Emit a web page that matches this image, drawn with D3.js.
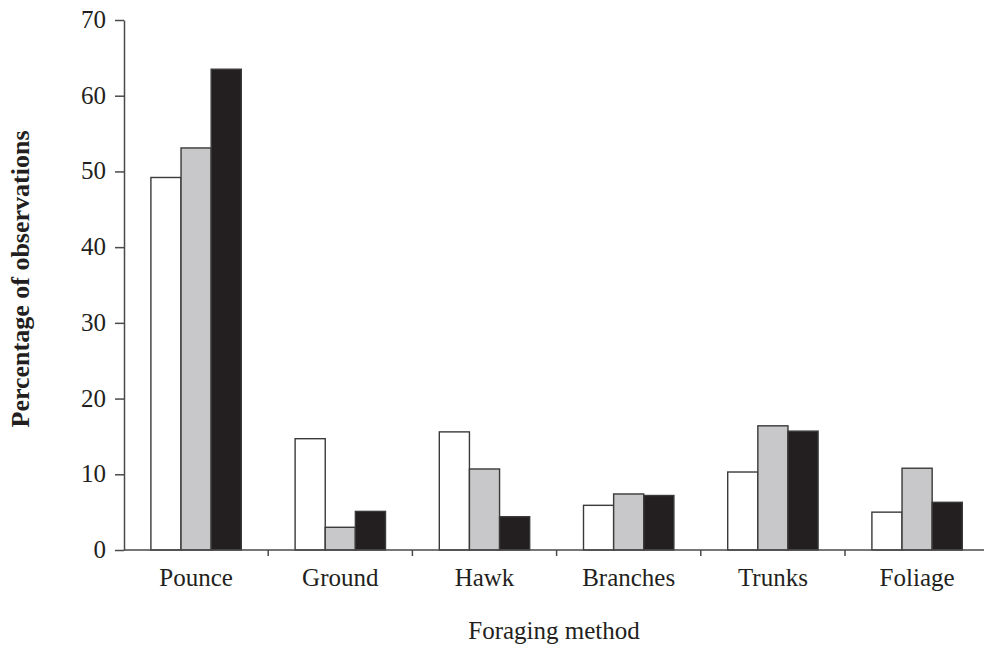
<!DOCTYPE html>
<html>
<head>
<meta charset="utf-8">
<script src="https://cdn.jsdelivr.net/npm/d3@7"></script>
<style>
  html, body { margin: 0; padding: 0; background: #fff; }
  svg { display: block; }
  text { font-family: "Liberation Serif", "DejaVu Serif", serif; fill: #231f20; }
</style>
</head>
<body>
<svg id="chart" width="984" height="648"></svg>
<script>
// Foraging methods and the share of observations for each of three groups
const categories = ["Pounce", "Ground", "Hawk", "Branches", "Trunks", "Foliage"];
const seriesNames = ["white", "grey", "black"];
const whiteValues = [49.2, 14.7, 15.6, 5.9, 10.3, 5.0];
const greyValues  = [53.1, 3.0, 10.7, 7.4, 16.4, 10.8];
const blackValues = [63.5, 5.1, 4.4, 7.2, 15.7, 6.3];
const yTicks = [0, 10, 20, 30, 40, 50, 60, 70];

const seriesValues = [whiteValues, greyValues, blackValues];
const fills = { white: "#ffffff", grey: "#c8c8ca", black: "#231f20" };

const svg = d3.select("#chart");
const plotLeft = 124, plotBottom = 550, plotTop = 20, step = 144.2;

const x = d3.scaleBand()
  .domain(categories)
  .range([plotLeft, plotLeft + step * categories.length])
  .paddingInner(0).paddingOuter(0);

const xSub = d3.scaleBand()
  .domain(seriesNames)
  .range([0, x.bandwidth()])
  .paddingInner(0).paddingOuter(0.893);

const y = d3.scaleLinear().domain([0, 70]).range([plotBottom, plotTop]);

// bars
const groups = svg.append("g").selectAll("g")
  .data(categories)
  .join("g")
  .attr("transform", d => `translate(${x(d)},0)`);

groups.selectAll("rect")
  .data((d, i) => seriesNames.map((s, j) => ({ s, v: seriesValues[j][i] })))
  .join("rect")
  .attr("x", d => xSub(d.s))
  .attr("width", xSub.bandwidth())
  .attr("y", d => y(d.v))
  .attr("height", d => y(0) - y(d.v))
  .attr("fill", d => fills[d.s])
  .attr("stroke", "#3a3a3a")
  .attr("stroke-width", 1.4);

// y axis
const yAxis = svg.append("g")
  .attr("transform", `translate(${plotLeft},0)`)
  .call(d3.axisLeft(y).tickValues(yTicks).tickFormat(d3.format("d"))
    .tickSize(9).tickSizeOuter(0).tickPadding(9));
yAxis.select(".domain").attr("stroke", "#4a4a4a").attr("stroke-width", 1.5);
yAxis.selectAll(".tick line").attr("stroke", "#4a4a4a").attr("stroke-width", 1.5);
yAxis.selectAll(".tick text")
  .attr("font-size", 25)
  .style("font-family", '"Liberation Serif", serif')
  .attr("fill", "#231f20")
  .attr("dy", "0.3em");

// x axis: baseline, separators between categories, labels centred in each band
const xAxisG = svg.append("g").attr("transform", `translate(0,${plotBottom})`);
xAxisG.append("line")
  .attr("x1", x.range()[0]).attr("x2", x.range()[1])
  .attr("stroke", "#4a4a4a").attr("stroke-width", 1.5);
xAxisG.selectAll("line.sep")
  .data(categories.slice(1))
  .join("line")
  .attr("class", "sep")
  .attr("x1", d => x(d)).attr("x2", d => x(d))
  .attr("y1", 0).attr("y2", 6)
  .attr("stroke", "#4a4a4a").attr("stroke-width", 1.5);
xAxisG.selectAll("text")
  .data(categories)
  .join("text")
  .attr("x", d => x(d) + x.bandwidth() / 2)
  .attr("y", 36)
  .attr("text-anchor", "middle")
  .attr("font-size", 25)
  .text(d => d);

// axis titles
svg.append("text")
  .attr("x", 554).attr("y", 639)
  .attr("text-anchor", "middle")
  .attr("font-size", 25)
  .text("Foraging method");

svg.append("text")
  .attr("transform", "translate(29,279) rotate(-90)")
  .attr("text-anchor", "middle")
  .attr("font-size", 26)
  .attr("font-weight", "bold")
  .text("Percentage of observations");
</script>
</body>
</html>
